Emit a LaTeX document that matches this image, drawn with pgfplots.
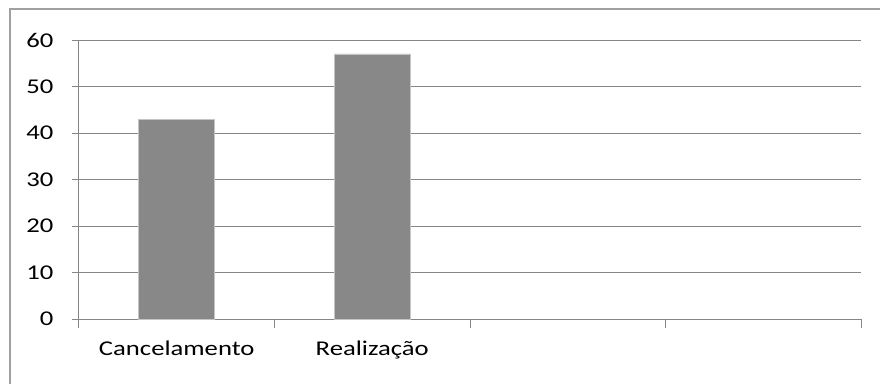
\documentclass[border=0pt]{standalone}
\usepackage{pgfplots}
\pgfplotsset{compat=1.18}
\usepackage{fontspec}
\setmainfont{Carlito}
\definecolor{gridc}{HTML}{868686}
\definecolor{barc}{HTML}{888888}
\definecolor{barb}{HTML}{C4C4C4}
\definecolor{framec}{HTML}{A0A0A0}
\newcommand{\sx}[1]{\scalebox{1.27}[1]{#1}}
\begin{document}
\begin{tikzpicture}[x=1bp,y=1bp]
\path[use as bounding box] (-79,-64) rectangle (801,319);
\draw[framec,line width=1.3bp] (-69,-70) -- (-69,310) -- (810,310);
\begin{axis}[
  at={(0,0)}, anchor=south west,
  scale only axis, width=782bp, height=279bp,
  xmin=-0.5, xmax=3.5, ymin=0, ymax=60,
  ytick={0,10,...,60},
  xtick={0,1}, xticklabels={\sx{Cancelamento},\sx{Realização}},
  minor xtick={-0.5,0.5,1.5,2.5,3.5},
  axis lines=left, axis line style={-, gridc, line width=1bp},
  ymajorgrids, grid style={gridc, line width=1bp},
  tick align=outside,
  major tick length=7bp, minor tick length=9bp,
  xtick style={draw=none},
  minor x tick style={draw=gridc, line width=1bp},
  ytick style={gridc, line width=1bp},
  tick label style={font=\fontsize{21bp}{25bp}\selectfont, text=black},
  yticklabel={\sx{\pgfmathprintnumber{\tick}}},
  xticklabel style={yshift=-11bp},
  yticklabel style={xshift=-15bp},
  /pgf/number format/assume math mode=true,
  clip=false,
]
\addplot[ybar, bar width=76bp, bar shift=0pt, fill=barc, draw=barb, line width=0.8bp]
  coordinates {(0,43) (1,57)};
\end{axis}
\end{tikzpicture}
\end{document}
